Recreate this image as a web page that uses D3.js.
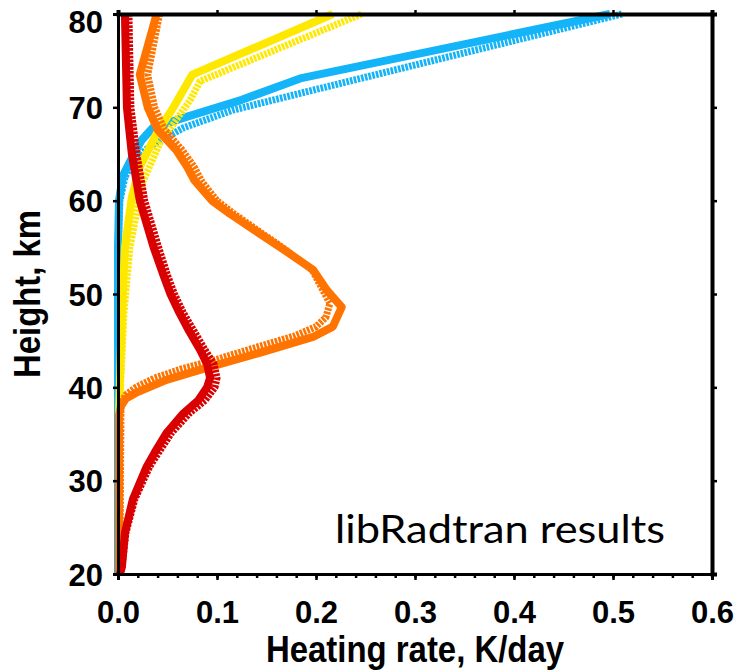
<!DOCTYPE html>
<html>
<head>
<meta charset="utf-8">
<script src="https://cdn.jsdelivr.net/npm/d3@7"></script>
<style>
  html, body { margin: 0; padding: 0; background: #fff; }
  svg { display: block; }
</style>
</head>
<body>
<svg id="chart" width="738" height="671"></svg>
<script>
// Heating-rate profiles: each entry is [height km, heating rate K/day]
const redSolid = [[80,0.007],[75,0.008],[70,0.009],[65,0.014],[60,0.022],[55,0.036],[52,0.046],[50,0.053],[48,0.062],[46,0.072],[44,0.083],[42.5,0.09],[41,0.093],[40,0.09],[38.6,0.081],[37.2,0.066],[35.1,0.049],[33,0.037],[31.5,0.029],[28,0.015],[24.4,0.007],[20.8,0.004],[20,0.002]];
const redDotted = [[80,0.011],[75,0.012],[70,0.013],[65,0.019],[60,0.027],[55,0.041],[52,0.05],[50,0.057],[48,0.066],[46,0.077],[44,0.088],[42.5,0.097],[41,0.1],[40,0.098],[38.6,0.088],[37.2,0.072],[35.1,0.054],[33,0.041],[31.5,0.032],[28,0.017],[24.4,0.008],[20.8,0.004],[20,0.003]];
const orangeSolid = [[80,0.039],[73.5,0.022],[70,0.03],[67.6,0.04],[65.4,0.059],[63.6,0.07],[62.2,0.077],[60,0.095],[58.6,0.113],[56.9,0.137],[55,0.164],[52.6,0.197],[50.4,0.211],[48.6,0.226],[46.5,0.217],[45.4,0.197],[43.7,0.143],[42.2,0.093],[40.8,0.049],[39.4,0.018],[38.8,0.008],[38,0.003],[37,0.001],[20,0.001]];
const orangeDotted = [[80,0.042],[73.5,0.03],[70,0.037],[67.6,0.047],[65.4,0.065],[63.6,0.077],[62,0.085],[60,0.1],[58.6,0.117],[56.9,0.14],[55,0.166],[52.6,0.196],[50.4,0.207],[49,0.214],[47.5,0.21],[46.5,0.2],[45.5,0.178],[44.3,0.14],[43,0.1],[42,0.065],[41,0.037],[40,0.018],[39.2,0.008],[38.4,0.003],[20,0.002]];
const yellowSolid = [[80,0.217],[73.5,0.075],[70,0.056],[67.2,0.039],[63.6,0.022],[60.4,0.014],[55,0.007],[48,0.004],[41,0.002],[37,0.001],[20,0.001]];
const yellowDotted = [[80,0.246],[72.8,0.083],[70.8,0.073],[66.1,0.042],[62,0.025],[55,0.012],[48,0.006],[41,0.003],[37,0.001],[20,0.001]];
const blueSolid = [[80,0.497],[73.1,0.184],[70.8,0.125],[69,0.07],[67.8,0.035],[66.5,0.024],[65,0.016],[62.7,0.005],[60,0.001],[55,0],[20,0]];
const blueDotted = [[80,0.509],[71.5,0.184],[69.7,0.116],[67.8,0.066],[66.8,0.049],[65.8,0.032],[64.3,0.016],[62.5,0.007],[60,0.002],[55,0],[20,0]];

const heightTicks = [20, 30, 40, 50, 60, 70, 80];
const rateTicks = [0, 0.1, 0.2, 0.3, 0.4, 0.5, 0.6];
const rateMinorTicks = d3.range(0, 0.6001, 0.02);

const xLabel = "Heating rate, K/day";
const yLabel = "Height, km";
const note = "libRadtran results";

// drawing order: bottom to top
const series = [
  { data: blueDotted,   color: "#14b4f8", dotted: true },
  { data: blueSolid,    color: "#14b4f8", dotted: false },
  { data: yellowDotted, color: "#ffe800", dotted: true },
  { data: yellowSolid,  color: "#ffe800", dotted: false },
  { data: orangeDotted, color: "#ff7400", dotted: true },
  { data: orangeSolid,  color: "#ff7400", dotted: false },
  { data: redDotted,    color: "#d80000", dotted: true },
  { data: redSolid,     color: "#d80000", dotted: false }
];

const svg = d3.select("#chart");
const plotLeft = 118, plotRight = 712, plotTop = 14, plotBottom = 574;

const x = d3.scaleLinear().domain([0, 0.6]).range([plotLeft, plotRight]);
const y = d3.scaleLinear().domain([20, 80]).range([plotBottom, plotTop]);

const line = d3.line()
  .x(d => x(d[1]))
  .y(d => y(d[0]));

const plot = svg.append("g");
series.forEach(s => {
  plot.append("path")
    .datum(s.data)
    .attr("fill", "none")
    .attr("stroke", s.color)
    .attr("stroke-width", s.dotted ? 7 : 8)
    .attr("stroke-linejoin", "round")
    .attr("stroke-dasharray", s.dotted ? "2.6,1.2" : null)
    .attr("d", line);
});

const tickFont = "'Liberation Sans', Arial, sans-serif";

function styleAxis(g, width) {
  g.select(".domain").attr("stroke", "#000").attr("stroke-width", width);
  g.selectAll(".tick line").attr("stroke", "#000").attr("stroke-width", 2.5);
}

// bottom axis: minor ticks then labelled major ticks
const bMinor = svg.append("g").attr("transform", `translate(0,${plotBottom})`)
  .call(d3.axisBottom(x).tickValues(rateMinorTicks).tickSize(4).tickFormat(""));
styleAxis(bMinor, 3);
const bMajor = svg.append("g").attr("transform", `translate(0,${plotBottom})`)
  .call(d3.axisBottom(x).tickValues(rateTicks).tickSize(6).tickFormat(d3.format(".1f")));
styleAxis(bMajor, 3);
bMajor.selectAll(".tick text")
  .attr("y", 0).attr("dy", 0)
  .attr("transform", "translate(0,49)")
  .attr("font-family", tickFont).attr("font-weight", "bold").attr("font-size", 31)
  .attr("fill", "#000");

// top axis
const tAxis = svg.append("g").attr("transform", `translate(0,${plotTop})`)
  .call(d3.axisTop(x).tickValues(rateTicks).tickSize(4).tickFormat(""));
styleAxis(tAxis, 4);

// left axis; the topmost label is nudged down so it stays on the page
const lAxis = svg.append("g").attr("transform", `translate(${plotLeft},0)`)
  .call(d3.axisLeft(y).tickValues(heightTicks).tickSize(5).tickPadding(10).tickFormat(d3.format("d")));
styleAxis(lAxis, 3);
lAxis.selectAll(".tick text")
  .attr("dy", d => d === 80 ? "0.6em" : "0.36em")
  .attr("font-family", tickFont).attr("font-weight", "bold").attr("font-size", 31)
  .attr("fill", "#000");

// right axis
const rAxis = svg.append("g").attr("transform", `translate(${plotRight},0)`)
  .call(d3.axisRight(y).tickValues(heightTicks).tickSize(5).tickFormat(""));
styleAxis(rAxis, 4);

// axis titles
svg.append("text")
  .attr("x", (plotLeft + plotRight) / 2).attr("y", 662)
  .attr("text-anchor", "middle")
  .attr("font-family", tickFont).attr("font-weight", "bold").attr("font-size", 36)
  .attr("textLength", 298).attr("lengthAdjust", "spacingAndGlyphs")
  .text(xLabel);

svg.append("text")
  .attr("transform", `translate(40,${(plotTop + plotBottom) / 2}) rotate(-90)`)
  .attr("text-anchor", "middle")
  .attr("font-family", tickFont).attr("font-weight", "bold").attr("font-size", 36)
  .attr("textLength", 168).attr("lengthAdjust", "spacingAndGlyphs")
  .text(yLabel);

// annotation
svg.append("text")
  .attr("x", 335).attr("y", 543)
  .attr("font-family", "Lato, 'Open Sans', sans-serif").attr("font-size", 39)
  .attr("textLength", 330).attr("lengthAdjust", "spacingAndGlyphs")
  .attr("fill", "#000")
  .text(note);
</script>
</body>
</html>
